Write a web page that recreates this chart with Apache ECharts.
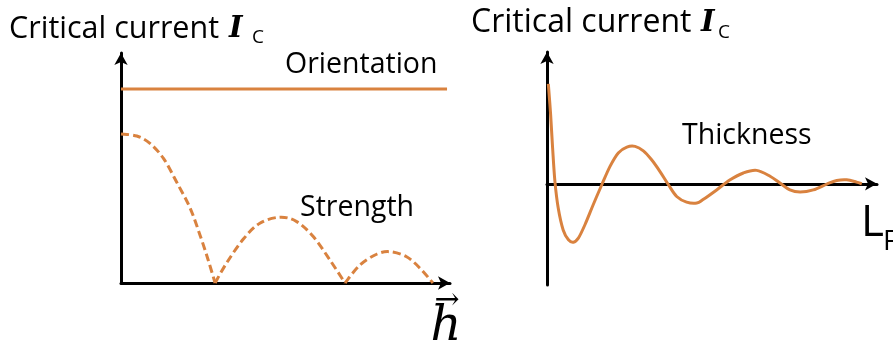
<!DOCTYPE html>
<html>
<head>
<meta charset="utf-8">
<script src="https://cdn.jsdelivr.net/npm/echarts@6/dist/echarts.min.js"></script>
<style>
  html, body { margin: 0; padding: 0; background: #fff; }
  #chart { width: 893px; height: 351px; }
</style>
</head>
<body>
<div id="chart"></div>
<script>
// Left panel: critical current vs. field direction h (arbitrary units)
const orientationX = [0, 9.91];
const orientationY = [8.43, 8.43];

// Strength: |sinc|-like lobes, one array per lobe so the zeros stay sharp
const strengthLobe1X = [0, 0.48, 0.88, 1.29, 1.69, 2.10, 2.40, 2.65, 2.86];
const strengthLobe1Y = [6.48, 6.39, 6.07, 5.42, 4.39, 3.26, 2.09, 1.00, 0];
const strengthLobe2X = [2.86, 3.21, 3.72, 4.22, 4.83, 5.34, 5.85, 6.35, 6.81];
const strengthLobe2Y = [0, 0.87, 1.91, 2.60, 2.86, 2.67, 2.01, 1.00, 0];
const strengthLobe3X = [6.81, 7.26, 7.77, 8.18, 8.68, 9.09, 9.48];
const strengthLobe3Y = [0, 0.78, 1.25, 1.36, 1.14, 0.64, 0];

// Right panel: critical current vs. ferromagnet thickness L_F (damped oscillation)
const thicknessX = [0.04, 0.11, 0.17, 0.24, 0.34, 0.49, 0.65, 0.80, 0.95, 1.15, 1.40, 1.66, 1.91,
  2.16, 2.42, 2.67, 2.92, 3.17, 3.42, 3.68, 3.93, 4.23, 4.54, 4.74, 5.14, 5.55, 5.95, 6.35,
  6.76, 7.06, 7.36, 7.67, 8.07, 8.48, 8.78, 9.08, 9.38, 9.54];
const thicknessY = [4.25, 2.94, 1.52, 0.10, -1.03, -1.96, -2.38, -2.48, -2.31, -1.74, -0.89, -0.04, 0.74,
  1.31, 1.56, 1.59, 1.40, 1.02, 0.53, -0.04, -0.54, -0.78, -0.82, -0.66, -0.26, 0.17, 0.46, 0.57,
  0.32, 0.03, -0.26, -0.35, -0.26, -0.01, 0.14, 0.17, 0.07, 0.0];

const zip = (xs, ys) => xs.map((x, i) => [x, ys[i]]);

const ORANGE = '#D9823F';
const SANS = '"Open Sans", Lato, sans-serif';
const SERIF = '"DejaVu Serif", serif';

const axisBase = {
  type: 'value',
  splitLine: { show: false },
  axisTick: { show: false },
  axisLabel: { show: false },
};
const arrowLine = {
  show: true,
  symbol: ['none', 'arrow'],
  symbolSize: [10, 12],
  lineStyle: { color: '#000', width: 3 }
};

// A curve drawn as a Catmull-Rom spline through the data points (projected by the axes)
function splineSeries(xs, ys, axisIndex, dash) {
  const pts = zip(xs, ys);
  return {
    type: 'custom',
    coordinateSystem: 'cartesian2d',
    xAxisIndex: axisIndex,
    yAxisIndex: axisIndex,
    data: pts,
    silent: true,
    renderItem(params, api) {
      if (params.dataIndex !== 0) return null;
      const p = pts.map(d => api.coord(d));
      let path = 'M' + p[0][0] + ',' + p[0][1];
      for (let i = 0; i < p.length - 1; i++) {
        const p0 = p[Math.max(i - 1, 0)], p1 = p[i], p2 = p[i + 1], p3 = p[Math.min(i + 2, p.length - 1)];
        const c1x = p1[0] + (p2[0] - p0[0]) / 6, c1y = p1[1] + (p2[1] - p0[1]) / 6;
        const c2x = p2[0] - (p3[0] - p1[0]) / 6, c2y = p2[1] - (p3[1] - p1[1]) / 6;
        path += ' C' + c1x + ',' + c1y + ',' + c2x + ',' + c2y + ',' + p2[0] + ',' + p2[1];
      }
      return {
        type: 'path',
        shape: { pathData: path },
        style: { fill: 'none', stroke: ORANGE, lineWidth: 3, lineDash: dash || null, lineCap: 'butt' }
      };
    }
  };
}

const chart = echarts.init(document.getElementById('chart'), null, { renderer: 'canvas' });

chart.setOption({
  animation: false,
  backgroundColor: '#fff',
  grid: [
    { left: 121, top: 53, width: 329, height: 230 },
    { left: 547, top: 52, width: 330, height: 233 }
  ],
  xAxis: [
    Object.assign({}, axisBase, { gridIndex: 0, min: 0, max: 10, axisLine: arrowLine }),
    Object.assign({}, axisBase, { gridIndex: 1, min: 0, max: 10, axisLine: Object.assign({}, arrowLine, { onZero: true }) })
  ],
  yAxis: [
    Object.assign({}, axisBase, { gridIndex: 0, min: 0, max: 10, axisLine: arrowLine }),
    Object.assign({}, axisBase, { gridIndex: 1, min: -4.3, max: 5.6, axisLine: arrowLine })
  ],
  series: [
    { type: 'line', xAxisIndex: 0, yAxisIndex: 0, data: zip(orientationX, orientationY),
      showSymbol: false, lineStyle: { color: ORANGE, width: 3 } },
    splineSeries(strengthLobe1X, strengthLobe1Y, 0, [8, 4]),
    splineSeries(strengthLobe2X, strengthLobe2Y, 0, [8, 4]),
    splineSeries(strengthLobe3X, strengthLobe3Y, 0, [8, 4]),
    splineSeries(thicknessX, thicknessY, 1, null)
  ],
  graphic: [
    // left title
    { type: 'text', x: 9, y: 29, style: { text: 'Critical current', font: '30.5px ' + SANS, fill: '#000', verticalAlign: 'middle' } },
    { type: 'text', x: 229, y: 29, style: { text: 'I', font: 'italic bold 29px ' + SERIF, fill: '#000', verticalAlign: 'middle' } },
    { type: 'text', x: 252, y: 38, style: { text: 'C', font: '19px ' + SANS, fill: '#000', verticalAlign: 'middle' } },
    // right title
    { type: 'text', x: 471, y: 23, style: { text: 'Critical current', font: '32px ' + SANS, fill: '#000', verticalAlign: 'middle' } },
    { type: 'text', x: 701, y: 23, style: { text: 'I', font: 'italic bold 29px ' + SERIF, fill: '#000', verticalAlign: 'middle' } },
    { type: 'text', x: 718, y: 33, style: { text: 'C', font: '19px ' + SANS, fill: '#000', verticalAlign: 'middle' } },
    // curve labels
    { type: 'text', x: 285, y: 65, style: { text: 'Orientation', font: '28.5px ' + SANS, fill: '#000', verticalAlign: 'middle' } },
    { type: 'text', x: 300, y: 208, style: { text: 'Strength', font: '28.5px ' + SANS, fill: '#000', verticalAlign: 'middle' } },
    { type: 'text', x: 682, y: 136, style: { text: 'Thickness', font: '28.5px ' + SANS, fill: '#000', verticalAlign: 'middle' } },
    // axis labels
    { type: 'text', x: 861, y: 223, style: { text: 'L', font: '44px ' + SANS, fill: '#000', verticalAlign: 'middle' } },
    { type: 'text', x: 883, y: 242, style: { text: 'F', font: '28px ' + SANS, fill: '#000', verticalAlign: 'middle' } },
    { type: 'text', x: 446, y: 328, style: { text: 'h', font: 'italic 48px ' + SERIF, fill: '#000', align: 'center', verticalAlign: 'middle' } },
    { type: 'text', x: 447, y: 301, style: { text: '\u2192', font: '30px ' + SERIF, fill: '#000', align: 'center', verticalAlign: 'middle' } }
  ]
});
</script>
</body>
</html>
